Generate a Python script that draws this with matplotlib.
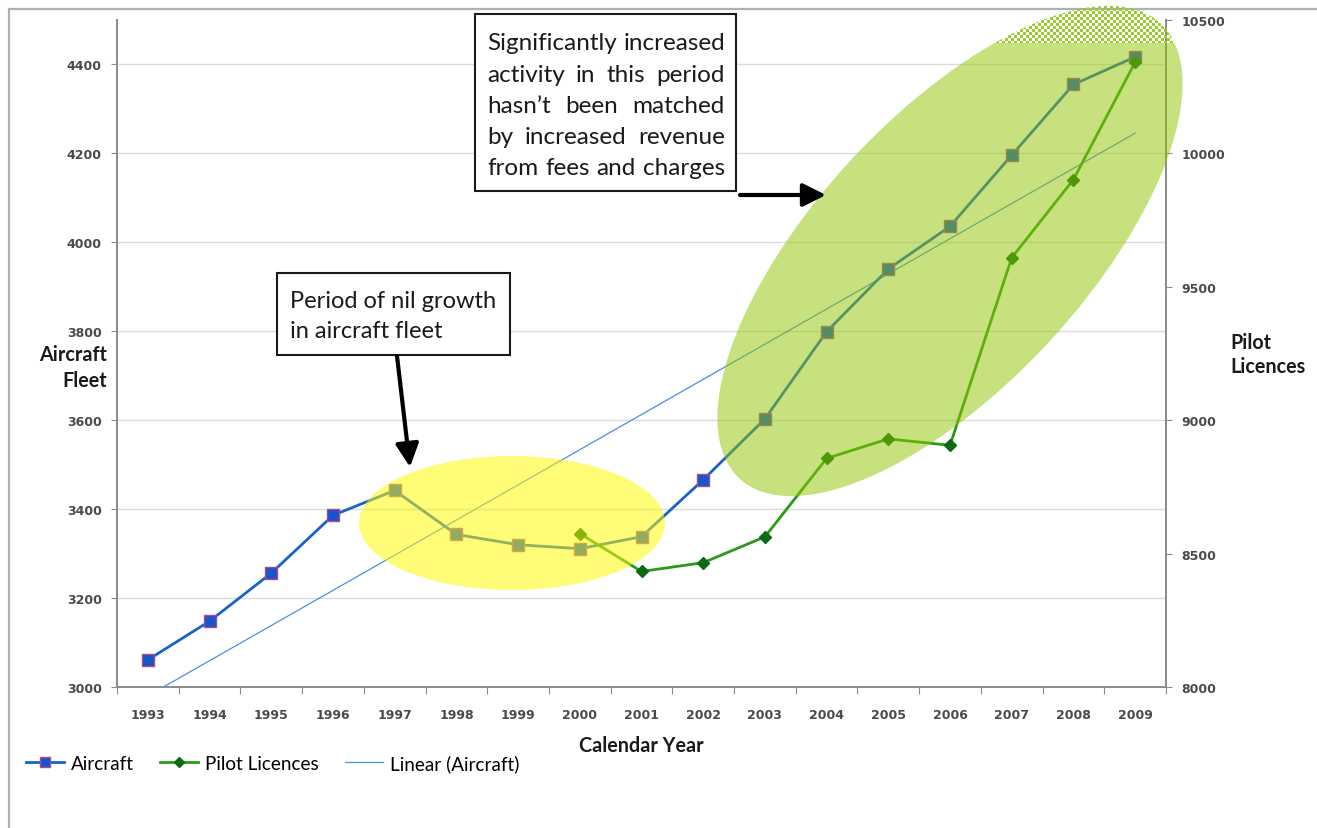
import numpy as np
import matplotlib
matplotlib.use("Agg")
import matplotlib.pyplot as plt
from matplotlib.patches import Ellipse, Rectangle

# Fleet size and licence counts per calendar year
years = np.arange(1993, 2010)
aircraft = [3061, 3148, 3256, 3386, 3442, 3343, 3320, 3311, 3338, 3466,
            3603, 3799, 3940, 4036, 4196, 4355, 4417]
pilot_years = np.arange(2000, 2010)
pilot_licences = [8575, 8433, 8466, 8563, 8857, 8930, 8906, 9609, 9902, 10342]
fleet_ticks = [3000, 3200, 3400, 3600, 3800, 4000, 4200, 4400]
licence_ticks = [8000, 8500, 9000, 9500, 10000, 10500]

W, H = 1317, 829
fig = plt.figure(figsize=(W / 100, H / 100), dpi=100)
fig.patch.set_facecolor("white")

ax = fig.add_axes([117 / W, (H - 688) / H, (1166 - 117) / W, (688 - 21) / H])
ax.set_xlim(1992.5, 2009.5)
ax.set_ylim(3000, 4500)
ax2 = ax.twinx()
ax2.set_ylim(8000, 10500)

tick_font = dict(family="DejaVu Sans", size=9, weight="bold")
label_col = "#4a4a4a"
spine_col = "#8c8c8c"

# linear trend of the fleet
coef = np.polyfit(years, aircraft, 1)
trend, = ax.plot(years, np.polyval(coef, years), color="#4a8fe0", lw=0.9,
                 label="Linear (Aircraft)")
fleet_line, = ax.plot(years, aircraft, color="#1763c9", lw=2, marker="s", ms=8.5,
                      mfc="#1655cc", mec="#b04a8a", mew=1, label="Aircraft")
pilot_line, = ax2.plot(pilot_years, pilot_licences, color="#2a9a18", lw=2, marker="D",
                       ms=6, mfc="#0b6a12", mec="#0b6a12", label="Pilot Licences")

ax.grid(axis="y", color="#dcdcdc", lw=1)
ax.set_axisbelow(True)
for a in (ax, ax2):
    a.spines["top"].set_visible(False)
    for s in ("left", "right", "bottom"):
        a.spines[s].set_color(spine_col)
        a.spines[s].set_linewidth(1.3)

ax.set_xticks(np.arange(1992.5, 2010, 1))
ax.set_xticklabels([])
ax.set_xticks(years, minor=True)
ax.set_xticklabels([str(y) for y in years], minor=True, fontdict=tick_font, color=label_col)
ax.tick_params(axis="x", which="major", length=5, color=spine_col)
ax.tick_params(axis="x", which="minor", length=0, pad=15)

ax.set_yticks(fleet_ticks)
ax.set_yticklabels([str(v) for v in fleet_ticks], fontdict=tick_font, color=label_col)
ax.tick_params(axis="y", length=4, pad=7, color=spine_col)
ax2.set_yticks(licence_ticks)
ax2.set_yticklabels([str(v) for v in licence_ticks], fontdict=tick_font, color=label_col)
ax2.tick_params(axis="y", length=4, pad=7, color=spine_col)

fig.legend([fleet_line, pilot_line, trend], ["Aircraft", "Pilot Licences", "Linear (Aircraft)"],
           loc="center left", bbox_to_anchor=(17 / W, 1 - 764 / H), ncol=3, frameon=False,
           borderpad=0, handlelength=2.0, handletextpad=0.36, columnspacing=1.4,
           markerscale=0.85, prop=dict(family="Lato", size=13.6))

# overlay in pixel units for the highlights and callouts
ov = fig.add_axes([0, 0, 1, 1], zorder=5)
ov.set_xlim(0, W)
ov.set_ylim(H, 0)
ov.set_autoscale_on(False)
ov.axis("off")

ov.plot([9, 9], [10, H], color="#b0b0b0", lw=1.6)
ov.plot([9, W], [10, 10], color="#b0b0b0", lw=1.6)

ov.add_patch(Ellipse((512, 524), 306, 134, fc="#fffa00", alpha=0.53, lw=0))

green_c, green_w, green_h, green_ang = (950, 252), 620, 269, -47.2
solid = Ellipse(green_c, green_w, green_h, angle=green_ang, fc="#91c500", alpha=0.5, lw=0)
ov.add_patch(solid)
solid.set_clip_path(Rectangle((0, 44), W, H, transform=ov.transData))

# dithered top of the green highlight
xx, yy = np.meshgrid(np.arange(990, 1190), np.arange(0, 44))
on = ((xx // 3 + yy // 3) % 2) == 0
rgba = np.zeros(on.shape + (4,))
rgba[on] = [0.60, 0.80, 0.18, 1.0]
im = ov.imshow(rgba, extent=(990, 1190, 44, 0), interpolation="nearest", aspect="auto", zorder=2)
im.set_clip_path(Ellipse(green_c, green_w, green_h, angle=green_ang, transform=ov.transData))
ov.set_xlim(0, W)
ov.set_ylim(H, 0)

renderer = fig.canvas.get_renderer()
note_font = dict(family="Lato", color="#1a1a1a")


def width_of(s, size):
    t = ov.text(0, 0, s, fontsize=size, **note_font)
    w = t.get_window_extent(renderer).width
    t.remove()
    return w


def fit_size(s, target, base=15.0):
    return base * target / width_of(s, base)


def justified(lines, x0, x1, baselines, size):
    for line, yb in zip(lines, baselines):
        words = line.split()
        widths = [width_of(w, size) for w in words]
        gap = (x1 - x0 - sum(widths)) / max(len(words) - 1, 1)
        x = x0
        for w, wd in zip(words, widths):
            ov.text(x, yb, w, fontsize=size, va="baseline", ha="left", zorder=7, **note_font)
            x += wd + gap


# callout boxes
ov.add_patch(Rectangle((277, 274), 233, 82, fc="white", ec="#1a1a1a", lw=1.5, zorder=6))
nil_lines = ["Period of nil growth", "in aircraft fleet"]
s1 = fit_size(nil_lines[0], 207)
for line, yb in zip(nil_lines, [308, 338]):
    ov.text(290, yb, line, fontsize=s1, va="baseline", ha="left", zorder=7, **note_font)

ov.add_patch(Rectangle((475, 15), 261, 177, fc="white", ec="#1a1a1a", lw=1.5, zorder=6))
busy_lines = ["Significantly increased", "activity in this period", "hasn\u2019t been matched",
              "by increased revenue", "from fees and charges"]
s2 = fit_size(busy_lines[-1], 236)
justified(busy_lines, 487, 725, [50, 82, 113, 144, 175], s2)

arrow_kw = dict(arrowstyle="-|>,head_length=1.0,head_width=0.5", color="black", lw=3,
                shrinkA=0, shrinkB=0, mutation_scale=14)
ov.annotate("", xy=(410, 468), xytext=(397, 357), arrowprops=arrow_kw, zorder=7)
ov.annotate("", xy=(826, 196), xytext=(740, 196), arrowprops=arrow_kw, zorder=7)

# axis titles
title_font = dict(family="Lato", fontweight="bold", fontsize=14.2, color="#1a1a1a")
ov.text(107, 368, "Aircraft\nFleet", ha="right", va="center", multialignment="right",
        linespacing=1.35, **title_font)
ov.text(1230, 355, "Pilot\nLicences", ha="left", va="center", multialignment="left",
        linespacing=1.25, **title_font)
ov.text(641, 746, "Calendar Year", ha="center", va="center", **title_font)

fig.savefig("out.png", dpi=100)
